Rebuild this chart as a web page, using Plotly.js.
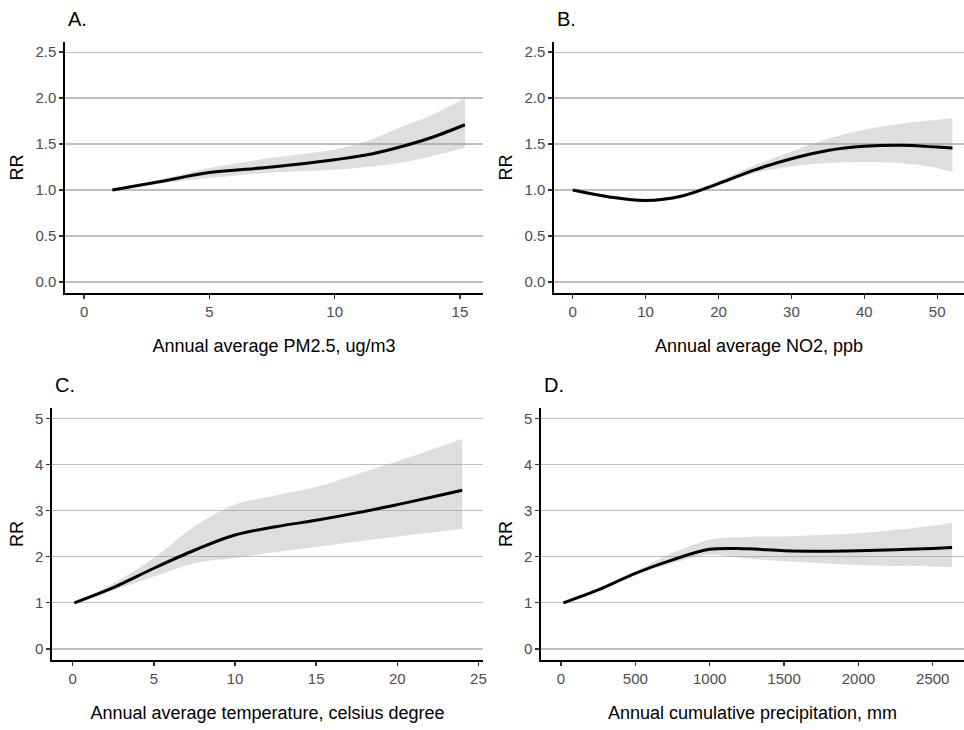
<!DOCTYPE html>
<html><head><meta charset="utf-8">
<script src="https://cdn.plot.ly/plotly-3.0.1.min.js"></script>
<style>body{margin:0;background:#fff}#chart{width:964px;height:730px}</style>
</head><body><div id="chart"></div>
<script>
// ---- data ----
const pmX     = [1.13, 3, 5, 7.5, 10, 11.25, 12.5, 13.75, 15.2];
const pmRR    = [1.0, 1.09, 1.19, 1.25, 1.33, 1.38, 1.46, 1.56, 1.71];
const pmLow   = [1.0, 1.07, 1.13, 1.19, 1.22, 1.25, 1.29, 1.36, 1.46];
const pmHigh  = [1.0, 1.11, 1.24, 1.35, 1.44, 1.53, 1.67, 1.80, 2.0];

const no2X    = [0, 5, 10, 15, 20, 25, 30, 35, 40, 45, 50, 52.1];
const no2RR   = [1.0, 0.925, 0.885, 0.935, 1.07, 1.22, 1.34, 1.43, 1.475, 1.486, 1.467, 1.457];
const no2Low  = [1.0, 0.91, 0.865, 0.915, 1.05, 1.185, 1.257, 1.293, 1.304, 1.293, 1.24, 1.196];
const no2High = [1.0, 0.94, 0.905, 0.955, 1.10, 1.27, 1.42, 1.558, 1.656, 1.72, 1.764, 1.78];

const tempX    = [0.1, 2.5, 5, 7.5, 10, 12.5, 15, 17.5, 20, 22.5, 24];
const tempRR   = [1.0, 1.33, 1.75, 2.14, 2.47, 2.65, 2.79, 2.95, 3.13, 3.32, 3.44];
const tempLow  = [1.0, 1.27, 1.57, 1.86, 1.97, 2.10, 2.21, 2.33, 2.44, 2.54, 2.60];
const tempHigh = [1.0, 1.42, 1.97, 2.66, 3.13, 3.33, 3.51, 3.79, 4.07, 4.37, 4.56];

const precX    = [16, 250, 500, 750, 1000, 1250, 1500, 1750, 2000, 2250, 2500, 2630];
const precRR   = [1.0, 1.28, 1.64, 1.93, 2.16, 2.17, 2.13, 2.12, 2.13, 2.15, 2.18, 2.20];
const precLow  = [1.0, 1.26, 1.61, 1.86, 2.04, 1.96, 1.90, 1.86, 1.82, 1.80, 1.79, 1.77];
const precHigh = [1.0, 1.30, 1.68, 2.08, 2.37, 2.43, 2.44, 2.47, 2.51, 2.58, 2.67, 2.73];

const panelLabels = ['A.', 'B.', 'C.', 'D.'];
const xTitles = ['Annual average PM2.5, ug/m3', 'Annual average NO2, ppb',
                 'Annual average temperature, celsius degree', 'Annual cumulative precipitation, mm'];
const yTitle = 'RR';
const xTicksA = [0, 5, 10, 15];
const xTicksB = [0, 10, 20, 30, 40, 50];
const xTicksC = [0, 5, 10, 15, 20, 25];
const xTicksD = [0, 500, 1000, 1500, 2000, 2500];
const yTicksTop = [0, 0.5, 1, 1.5, 2, 2.5];
const yTicksBottom = [0, 1, 2, 3, 4, 5];

// ---- layout helpers ----
const W = 964, H = 730;
const FONT = 'Liberation Sans, Arial, Helvetica, sans-serif';
const panels = [
  {x: pmX, rr: pmRR, lo: pmLow, hi: pmHigh, px: [65, 483], py: [42, 293], xr: [-0.76, 15.92], yr: [-0.12, 2.61], xt: xTicksA, yt: yTicksTop, yfmt: '.1f'},
  {x: no2X, rr: no2RR, lo: no2Low, hi: no2High, px: [554, 964], py: [42, 293], xr: [-2.57, 53.68], yr: [-0.12, 2.61], xt: xTicksB, yt: yTicksTop, yfmt: '.1f'},
  {x: tempX, rr: tempRR, lo: tempLow, hi: tempHigh, px: [52, 483], py: [408, 660], xr: [-1.275, 25.28], yr: [-0.24, 5.225], xt: xTicksC, yt: yTicksBottom, yfmt: 'd'},
  {x: precX, rr: precRR, lo: precLow, hi: precHigh, px: [541, 964], py: [408, 660], xr: [-134.5, 2710], yr: [-0.24, 5.225], xt: xTicksD, yt: yTicksBottom, yfmt: 'd'}
];

const data = [];
const layout = {
  width: W, height: H, showlegend: false,
  margin: {l: 0, r: 0, t: 0, b: 0},
  paper_bgcolor: '#fff', plot_bgcolor: '#fff',
  font: {family: FONT, color: '#000'},
  annotations: []
};

panels.forEach((p, i) => {
  const n = i + 1;
  const xa = n === 1 ? 'x' : 'x' + n, ya = n === 1 ? 'y' : 'y' + n;
  data.push({x: p.x, y: p.lo, xaxis: xa, yaxis: ya, type: 'scatter', mode: 'lines',
             line: {width: 0, shape: 'spline', smoothing: 1}, hoverinfo: 'skip'});
  data.push({x: p.x, y: p.hi, xaxis: xa, yaxis: ya, type: 'scatter', mode: 'lines',
             fill: 'tonexty', fillcolor: 'rgba(160,160,160,0.35)',
             line: {width: 0, shape: 'spline', smoothing: 1}, hoverinfo: 'skip'});
  data.push({x: p.x, y: p.rr, xaxis: xa, yaxis: ya, type: 'scatter', mode: 'lines',
             line: {width: 3, color: '#000', shape: 'spline', smoothing: 1}});
  const common = {showline: true, linecolor: '#000', linewidth: 1.6, ticks: 'outside', ticklen: 4,
                  tickwidth: 1.3, tickcolor: '#333', zeroline: false, fixedrange: true,
                  tickfont: {family: FONT, size: 15, color: '#4d4d4d'}};
  layout['xaxis' + (n === 1 ? '' : n)] = Object.assign({}, common, {
    domain: [p.px[0] / W, p.px[1] / W], anchor: ya, range: p.xr,
    tickmode: 'array', tickvals: p.xt, ticktext: p.xt.map(String), showgrid: false,
    title: {text: xTitles[i], font: {family: FONT, size: 18, color: '#000'}, standoff: 21}
  });
  layout['yaxis' + (n === 1 ? '' : n)] = Object.assign({}, common, {
    domain: [(H - p.py[1]) / H, (H - p.py[0]) / H], anchor: xa, range: p.yr,
    tickmode: 'array', tickvals: p.yt, tickformat: p.yfmt,
    showgrid: true, gridcolor: '#bfbfbf', gridwidth: 1.2,
    title: {text: yTitle, font: {family: FONT, size: 18, color: '#000'}, standoff: 7}
  });
  layout.annotations.push({text: panelLabels[i], xref: 'paper', yref: 'paper',
    x: (p.px[0] + 1) / W, y: (H - p.py[0] + 10) / H, xanchor: 'left', yanchor: 'bottom',
    showarrow: false, font: {family: FONT, size: 20, color: '#000'}});
});

Plotly.newPlot('chart', data, layout, {displayModeBar: false, staticPlot: true});
</script></body></html>
